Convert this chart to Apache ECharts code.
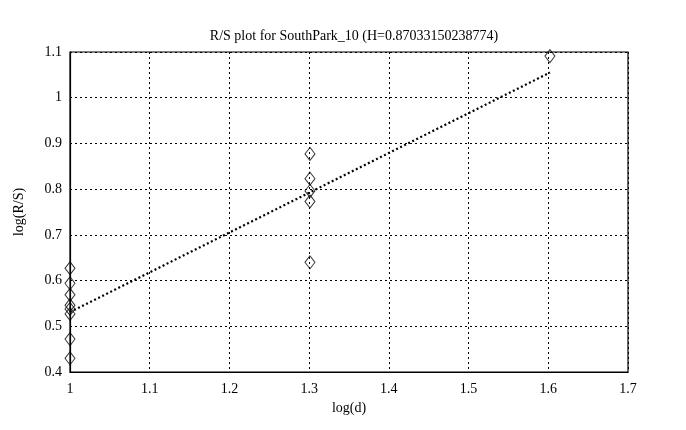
<!DOCTYPE html>
<html>
<head>
<meta charset="utf-8">
<script src="https://cdn.jsdelivr.net/npm/echarts@6/dist/echarts.min.js"></script>
<style>html,body{margin:0;padding:0;background:#fff;}#c{width:686px;height:430px;}</style>
</head>
<body>
<div id="c"></div>
<script>
var titleText = 'R/S plot for SouthPark_10 (H=0.87033150238774)';
var xLabel = 'log(d)';
var yLabel = 'log(R/S)';
// observations: log(d) and log(R/S)
var obsX = [1, 1, 1, 1, 1, 1, 1, 1, 1.30103, 1.30103, 1.30103, 1.30103, 1.30103, 1.60206];
var obsY = [0.627, 0.594, 0.569, 0.546, 0.538, 0.527, 0.472, 0.430, 0.877, 0.823, 0.796, 0.773, 0.640, 1.091];
// fitted line endpoints
var fitX = [1, 1.60206];
var fitY = [0.531, 1.055];

var font = 'Liberation Serif';
var scatterData = obsX.map(function (x, i) { return [x, obsY[i]]; });
var fitData = fitX.map(function (x, i) { return [x, fitY[i]]; });

var chart = echarts.init(document.getElementById('c'));
chart.setOption({
  animation: false,
  backgroundColor: '#fff',
  title: {
    text: titleText, left: 349, top: 24, textAlign: 'center',
    textStyle: { fontFamily: font, fontSize: 14, fontWeight: 'normal', color: '#000' }
  },
  grid: { left: 70, right: 58, top: 52, bottom: 58, show: true, borderColor: '#000', borderWidth: 1.2, backgroundColor: '#fff' },
  xAxis: {
    type: 'value', min: 1, max: 1.7, interval: 0.1,
    name: xLabel, nameLocation: 'middle', nameGap: 28,
    nameTextStyle: { fontFamily: font, fontSize: 14, color: '#000' },
    axisLine: { show: true, lineStyle: { color: '#000', width: 1.2 } },
    axisTick: { show: false },
    axisLabel: { fontFamily: font, fontSize: 14, color: '#000', margin: 10,
      formatter: function (v) { return String(Math.round(v * 10) / 10); } },
    splitLine: { show: true, lineStyle: { color: '#000', width: 1, type: [2, 3] } }
  },
  yAxis: {
    type: 'value', min: 0.4, max: 1.1, interval: 0.1,
    name: yLabel, nameLocation: 'middle', nameGap: 44, nameRotate: 90,
    nameTextStyle: { fontFamily: font, fontSize: 14, color: '#000' },
    axisLine: { show: true, lineStyle: { color: '#000', width: 1.2 } },
    axisTick: { show: false },
    axisLabel: { fontFamily: font, fontSize: 14, color: '#000', margin: 8,
      formatter: function (v) { return String(Math.round(v * 10) / 10); } },
    splitLine: { show: true, lineStyle: { color: '#000', width: 1, type: [2, 3] } }
  },
  series: [
    {
      type: 'line', data: fitData, symbol: 'none', z: 3,
      lineStyle: { color: '#000', width: 2.2, type: [2, 2.5] }
    },
    {
      type: 'scatter', data: scatterData, symbol: 'diamond', symbolSize: [10, 13], z: 4,
      itemStyle: { color: 'rgba(255,255,255,0)', borderColor: '#000', borderWidth: 1 }
    }
  ]
});
</script>
</body>
</html>
